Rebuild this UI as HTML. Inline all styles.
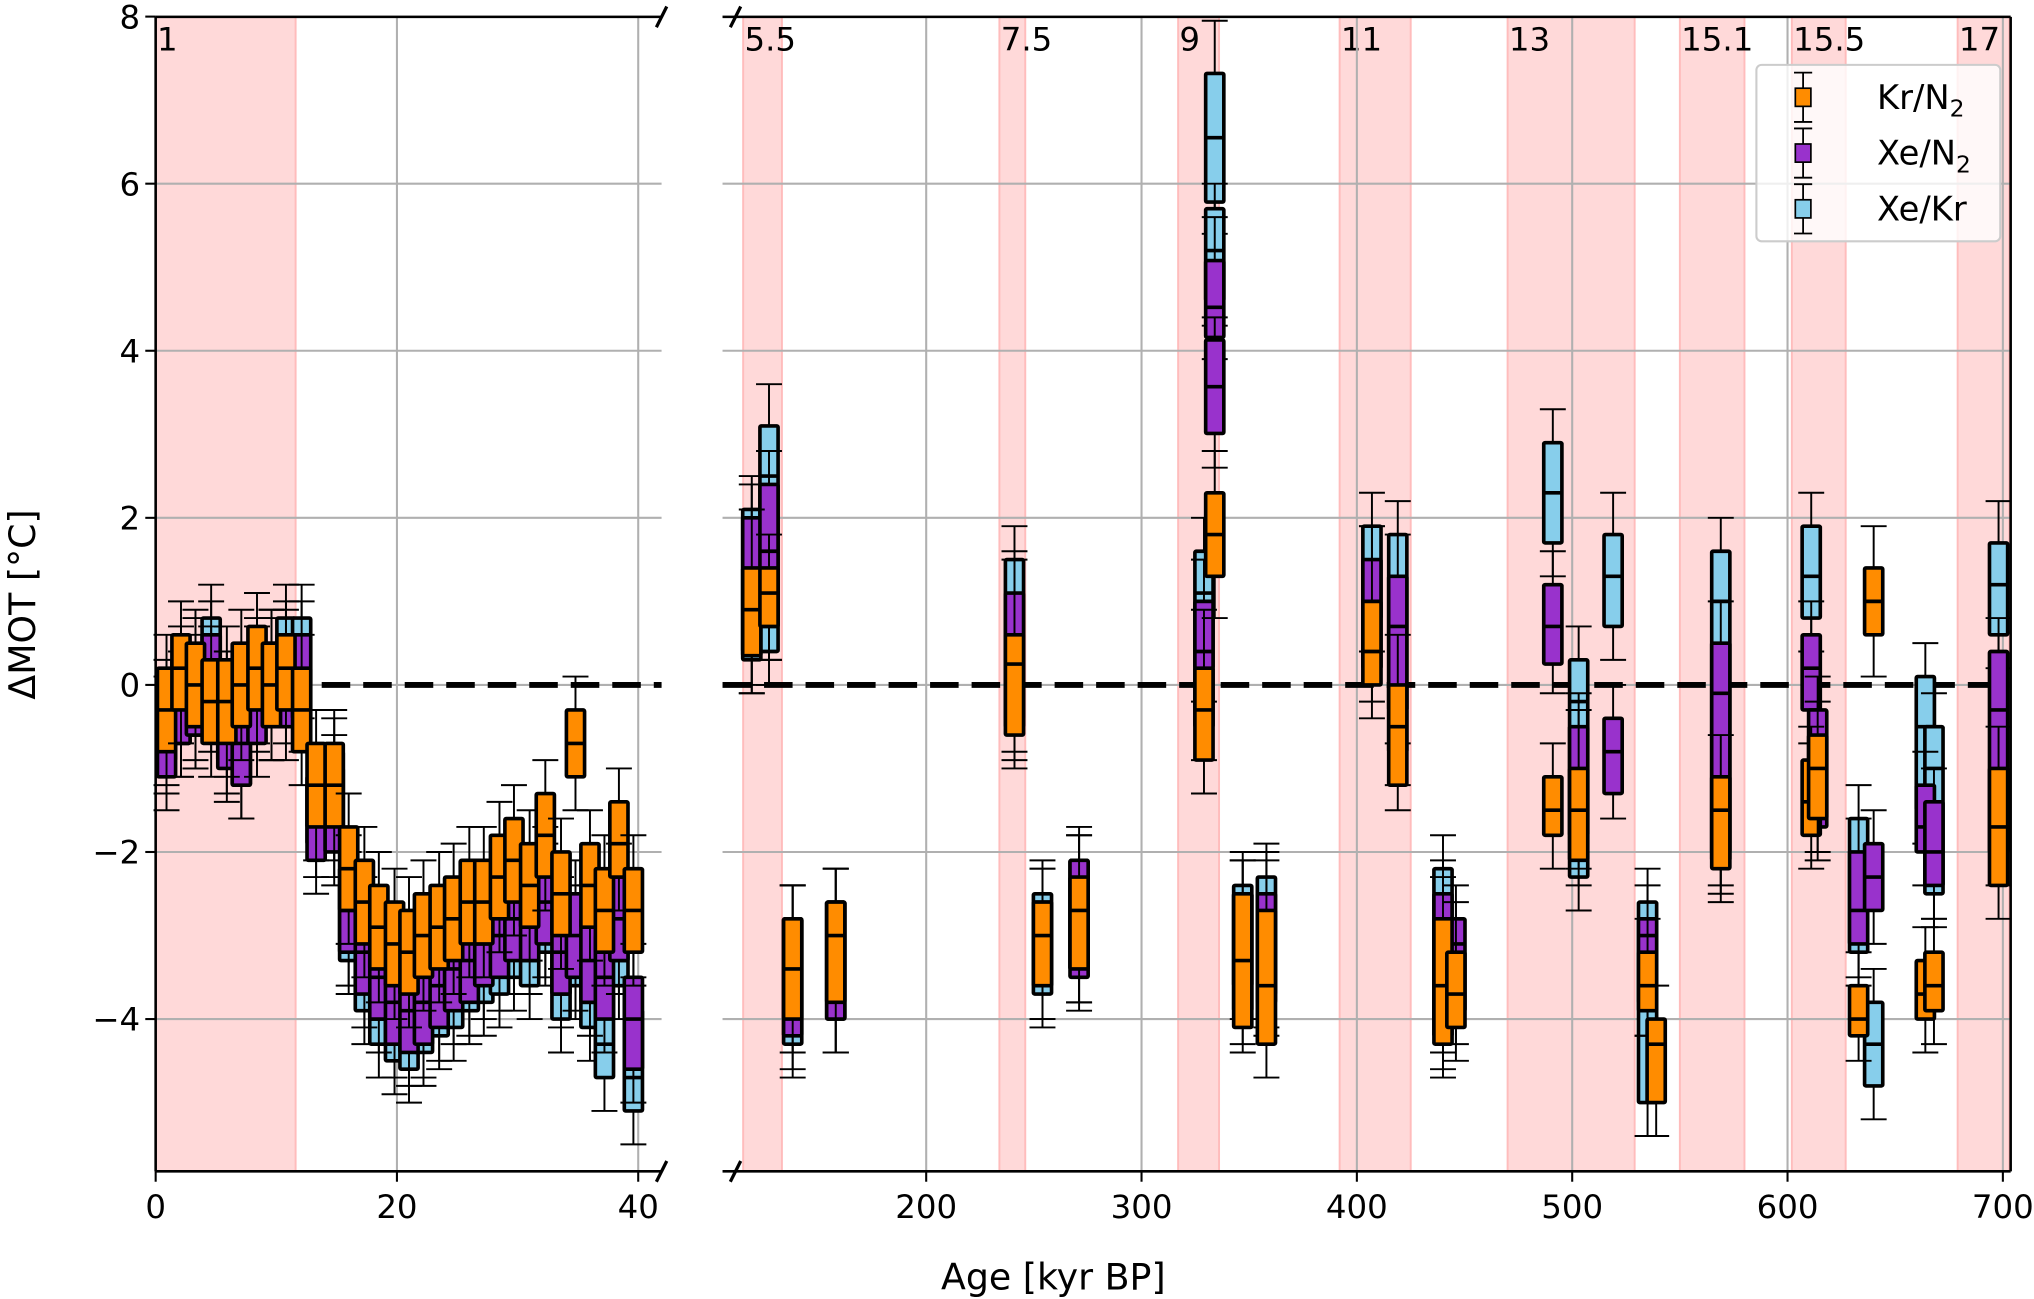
<!DOCTYPE html>
<html><head><meta charset="utf-8"><style>
html,body{margin:0;padding:0;background:#fff;}
svg{display:block;font-family:"DejaVu Sans","Liberation Sans",sans-serif;}
</style></head><body>
<svg id="chart" width="2034" height="1299" viewBox="0 0 1568 1001.4" preserveAspectRatio="none" xmlns="http://www.w3.org/2000/svg">
<g id="bg"></g><g id="grid"></g><g id="marks"></g><g id="axes"></g>
</svg>
<script>
// ---- data ----
const yTicks = [8, 6, 4, 2, 0, -2, -4];
const xTicksLeft = [0, 20, 40];
const xTicksRight = [200, 300, 400, 500, 600, 700];
const stageLabels = ["1", "5.5", "7.5", "9", "11", "13", "15.1", "15.5", "17"];
const stageStart = [0, 115, 234, 317, 392, 470, 550, 602, 679];
const stageEnd = [11.6, 133, 246, 336, 425, 529, 580, 627, 703];
const leftAges = [0.9,2.1,3.3,4.6,5.9,7.1,8.4,9.6,10.8,12.1,13.3,14.8,16.0,17.3,18.5,19.8,21.0,22.2,23.5,24.7,26.0,27.2,28.5,29.7,31.0,32.3,33.6,34.8,36.0,37.2,38.4,39.6];

// Kr/N2
const krAge = leftAges.concat([119,127,138,158,241,254,271,329,334,347,358,407,419,440,446,491,503,535,539,569,611,614,633,640,664,668,698]);
const krQ1 = [-0.8,-0.3,-0.5,-0.7,-0.7,-0.5,-0.3,-0.5,-0.3,-0.8,-1.7,-1.7,-2.7,-3.1,-3.4,-3.6,-3.7,-3.5,-3.4,-3.3,-3.1,-3.1,-2.8,-2.6,-2.9,-2.3,-3.0,-1.1,-2.9,-3.2,-2.3,-3.2,
  0.35,0.7,-4.0,-3.8,-0.6,-3.6,-3.4,-0.9,1.3,-4.1,-4.3,0.0,-1.2,-4.3,-4.1,-1.8,-2.1,-3.9,-5.0,-2.2,-1.8,-1.6,-4.2,0.6,-4.0,-3.9,-2.4];
const krMed = [-0.3,0.2,0.0,-0.2,-0.2,0.0,0.2,0.0,0.2,-0.3,-1.2,-1.2,-2.2,-2.6,-2.9,-3.1,-3.2,-3.0,-2.9,-2.8,-2.6,-2.6,-2.3,-2.1,-2.4,-1.8,-2.5,-0.7,-2.4,-2.7,-1.9,-2.7,
  0.9,1.1,-3.4,-3.0,0.25,-3.0,-2.7,-0.3,1.8,-3.3,-3.6,0.4,-0.5,-3.6,-3.7,-1.5,-1.5,-3.6,-4.3,-1.5,-1.4,-1.0,-4.0,1.0,-3.7,-3.6,-1.7];
const krQ3 = [0.2,0.6,0.5,0.3,0.3,0.5,0.7,0.5,0.6,0.2,-0.7,-0.7,-1.7,-2.1,-2.4,-2.6,-2.7,-2.5,-2.4,-2.3,-2.1,-2.1,-1.8,-1.6,-1.9,-1.3,-2.0,-0.3,-1.9,-2.2,-1.4,-2.2,
  1.4,1.4,-2.8,-2.6,0.6,-2.6,-2.3,0.2,2.3,-2.5,-2.7,1.0,0.0,-2.8,-3.2,-1.1,-1.0,-3.2,-4.0,-1.1,-0.9,-0.6,-3.6,1.4,-3.3,-3.2,-1.0];
const krLo = [-1.2,-0.7,-0.9,-1.1,-1.1,-0.9,-0.7,-0.9,-0.7,-1.2,-2.1,-2.1,-3.1,-3.5,-3.8,-4.0,-4.1,-3.9,-3.8,-3.7,-3.5,-3.5,-3.2,-3.0,-3.3,-2.7,-3.4,-1.5,-3.3,-3.6,-2.7,-3.6,
  -0.1,0.3,-4.4,-4.4,-1.0,-4.0,-3.8,-1.3,0.8,-4.4,-4.7,-0.4,-1.5,-4.7,-4.5,-2.2,-2.4,-4.2,-5.4,-2.6,-2.2,-2.0,-4.5,0.1,-4.4,-4.3,-2.8];
const krHi = [0.6,1.0,0.9,0.7,0.7,0.9,1.1,0.9,1.0,0.6,-0.3,-0.3,-1.3,-1.7,-2.0,-2.2,-2.3,-2.1,-2.0,-1.9,-1.7,-1.7,-1.4,-1.2,-1.5,-0.9,-1.6,0.1,-1.5,-1.8,-1.0,-1.8,
  2.1,1.8,-2.4,-2.2,1.5,-2.2,-1.8,0.9,2.8,-2.1,-2.0,1.9,0.6,-2.3,-2.6,-0.7,-0.3,-2.8,-3.6,-0.6,-0.5,-0.2,-3.2,1.9,-2.9,-2.8,-0.5];

// Xe/N2
const xnAge = leftAges.concat([119,127,138,158,241,254,271,329,334,334,347,358,407,419,440,446,491,503,519,535,569,611,614,633,640,664,668,698]);
const xnQ1 = [-1.1,-0.7,-0.6,-0.4,-1.0,-1.2,-0.7,-0.5,-0.5,-0.4,-2.1,-2.0,-3.2,-3.7,-4.0,-4.3,-4.4,-4.3,-4.1,-3.9,-3.8,-3.6,-3.5,-3.3,-3.3,-3.1,-3.7,-3.5,-3.8,-4.0,-3.3,-4.6,
  0.4,0.7,-4.2,-4.0,-0.4,-3.6,-3.5,-0.5,4.16,3.01,-3.6,-3.8,0.2,-0.8,-4.0,-3.9,0.25,-1.8,-1.3,-3.8,-2.0,-0.3,-1.7,-3.1,-2.7,-2.0,-2.4,-2.0];
const xnMed = [-0.6,-0.2,-0.1,0.1,-0.5,-0.7,-0.2,0.0,0.0,0.1,-1.6,-1.5,-2.7,-3.2,-3.5,-3.8,-3.9,-3.8,-3.6,-3.4,-3.3,-3.1,-3.0,-2.8,-2.8,-2.6,-3.2,-3.0,-3.3,-3.5,-2.8,-4.0,
  1.2,1.6,-3.9,-3.5,0.6,-3.2,-2.9,0.4,4.52,3.57,-3.0,-3.1,0.9,0.7,-3.3,-3.1,0.7,-1.1,-0.8,-3.0,-0.1,0.2,-0.9,-2.7,-2.3,-1.7,-2.0,-0.3];
const xnQ3 = [-0.1,0.3,0.4,0.6,0.0,-0.2,0.3,0.5,0.5,0.6,-1.1,-1.0,-2.2,-2.7,-3.0,-3.3,-3.4,-3.3,-3.1,-2.9,-2.8,-2.6,-2.5,-2.3,-2.3,-2.1,-2.7,-2.5,-2.8,-3.0,-2.3,-3.5,
  2.0,2.4,-2.8,-2.6,1.1,-2.6,-2.1,1.0,5.08,4.13,-2.5,-2.5,1.5,1.3,-2.5,-2.8,1.2,-0.5,-0.4,-2.8,0.5,0.6,-0.3,-2.0,-1.9,-1.2,-1.4,0.4];
const xnLo = [-1.5,-1.1,-1.0,-0.8,-1.4,-1.6,-1.1,-0.9,-0.9,-0.8,-2.5,-2.4,-3.6,-4.1,-4.4,-4.7,-4.8,-4.7,-4.5,-4.3,-4.2,-4.0,-3.9,-3.7,-3.7,-3.5,-4.1,-3.9,-4.2,-4.4,-3.7,-5.0,
  0.0,0.3,-4.6,-4.4,-0.8,-4.0,-3.9,-0.9,3.9,2.6,-4.0,-4.2,-0.2,-1.2,-4.4,-4.3,-0.1,-2.2,-1.6,-4.2,-2.4,-0.7,-2.1,-3.5,-3.1,-2.4,-2.8,-2.4];
const xnHi = [0.3,0.7,0.8,1.0,0.4,0.2,0.7,0.9,0.9,1.0,-0.7,-0.6,-1.8,-2.3,-2.6,-2.9,-3.0,-2.9,-2.7,-2.5,-2.4,-2.2,-2.1,-1.9,-1.9,-1.7,-2.3,-2.1,-2.4,-2.6,-1.9,-3.1,
  2.4,2.8,-2.4,-2.2,1.6,-2.2,-1.8,1.5,5.6,4.4,-2.1,-2.1,1.9,1.8,-2.1,-2.4,1.6,-0.1,0.0,-2.4,1.0,1.0,0.1,-1.6,-1.5,-0.8,-1.0,0.8];

// Xe/Kr
const xkAge = leftAges.concat([119,127,138,158,241,254,271,329,334,334,347,358,407,419,440,491,503,519,535,569,611,633,640,664,668,698]);
const xkQ1 = [-0.9,-0.7,-0.6,-0.1,-0.9,-1.2,-0.4,-0.5,-0.1,0.0,-1.9,-1.9,-3.3,-3.9,-4.3,-4.5,-4.6,-4.4,-4.2,-4.1,-3.9,-3.8,-3.7,-3.5,-3.6,-3.2,-4.0,-3.6,-4.1,-4.7,-3.6,-5.1,
  0.3,0.4,-4.3,-4.0,-0.5,-3.7,-3.4,0.2,5.78,4.6,-3.9,-3.7,0.8,-0.3,-4.2,1.7,-2.3,0.7,-5.0,-2.1,0.8,-3.2,-4.8,-1.5,-2.5,0.6];
const xkMed = [-0.7,-0.4,-0.3,0.3,-0.6,-1.0,-0.1,-0.2,0.3,0.4,-1.7,-1.6,-3.0,-3.6,-4.0,-4.2,-4.3,-4.1,-3.9,-3.8,-3.6,-3.5,-3.4,-3.2,-3.3,-2.8,-3.7,-3.3,-3.8,-4.3,-3.3,-4.7,
  1.2,2.5,-4.1,-3.8,1.0,-3.3,-2.8,1.1,6.55,5.2,-3.2,-3.0,1.4,1.0,-3.2,2.3,-0.2,1.3,-3.0,1.0,1.3,-2.1,-4.3,-0.5,-1.0,1.2];
const xkQ3 = [-0.3,0.0,0.2,0.8,-0.2,-0.5,0.4,0.4,0.8,0.8,-1.2,-0.8,-2.4,-3.0,-3.4,-3.7,-3.8,-3.6,-3.4,-3.3,-3.1,-3.0,-2.9,-2.7,-2.8,-2.3,-3.2,-2.8,-3.3,-3.7,-2.8,-3.9,
  2.1,3.1,-2.8,-2.6,1.5,-2.5,-2.1,1.6,7.32,5.7,-2.4,-2.3,1.9,1.8,-2.2,2.9,0.3,1.8,-2.6,1.6,1.9,-1.6,-3.8,0.1,-0.5,1.7];
const xkLo = [-1.3,-1.1,-1.0,-0.5,-1.3,-1.6,-0.8,-0.9,-0.5,-0.4,-2.3,-2.3,-3.7,-4.3,-4.7,-4.9,-5.0,-4.8,-4.6,-4.5,-4.3,-4.2,-4.1,-3.9,-4.0,-3.6,-4.4,-4.0,-4.5,-5.1,-4.0,-5.5,
  -0.1,0.0,-4.7,-4.4,-0.9,-4.1,-3.8,-0.2,5.4,4.3,-4.3,-4.1,0.4,-0.7,-4.6,1.3,-2.7,0.3,-5.4,-2.5,0.4,-3.6,-5.2,-1.9,-2.9,0.2];
const xkHi = [0.1,0.4,0.6,1.2,0.2,-0.1,0.8,0.8,1.2,1.2,-0.8,-0.4,-2.0,-2.6,-3.0,-3.3,-3.4,-3.2,-3.0,-2.9,-2.7,-2.6,-2.5,-2.3,-2.4,-1.9,-2.8,-2.4,-2.9,-3.3,-2.4,-3.5,
  2.5,3.6,-2.4,-2.2,1.9,-2.1,-1.7,2.0,7.95,6.0,-2.0,-1.9,2.3,2.2,-1.8,3.3,0.7,2.3,-2.2,2.0,2.3,-1.2,-3.4,0.5,-0.1,2.2];

// ---- scales ----
const NS = "http://www.w3.org/2000/svg";
const L0 = 120, L1 = 510, R0 = 557, R1 = 1550, T = 13, B = 903;
function xL(a){ return 120 + a * 9.3; }
function xR(a){ return 714 + (a - 200) * 1.66; }
function xAge(a){ return a <= 45 ? xL(a) : xR(a); }
function yv(v){ return 528 - v * 64.4; }
function mk(tag, attrs, parent){
  const e = document.createElementNS(NS, tag);
  for (const k in attrs) e.setAttribute(k, attrs[k]);
  parent.appendChild(e);
  return e;
}
const bg = document.getElementById('bg'), grid = document.getElementById('grid'),
      marks = document.getElementById('marks'), axes = document.getElementById('axes');

// stage shading
stageLabels.forEach((lab, i) => {
  const x0 = xAge(stageStart[i]), x1 = Math.min(xAge(stageEnd[i]), i === 0 ? L1 : R1);
  const r = mk('rect', {x: x0, y: T, width: x1 - x0, height: B - T, fill: '#ffd9d9', stroke: '#ffbcbc', 'stroke-width': 1.5}, bg);
  
  
  const t = mk('text', {x: x0 + 1, y: 39, 'font-size': 25, fill: '#000'}, bg);
  t.textContent = lab;
  
  
});

// gridlines
yTicks.forEach(v => {
  [[L0, L1], [R0, R1]].forEach(([a, b]) => {
    const g = mk('line', {x1: a, x2: b, y1: yv(v), y2: yv(v), stroke: '#b0b0b0', 'stroke-width': 1.6}, grid);
    
    
  });
});
xTicksLeft.concat(xTicksRight).forEach(a => {
  const g = mk('line', {x1: xAge(a), x2: xAge(a), y1: T, y2: B, stroke: '#b0b0b0', 'stroke-width': 1.6}, grid);
  
  
});
// zero line
[[L0, L1], [R0, R1]].forEach(([a, b]) => {
  const z = mk('line', {x1: a, x2: b, y1: yv(0), y2: yv(0), stroke: '#000', 'stroke-width': 4.5, 'stroke-dasharray': '22 10'}, grid);
  
  
});

// box plots
function drawSeries(name, color, age, q1, med, q3, lo, hi){
  const g = mk('g', {}, marks);
  
  
  for (let i = 0; i < age.length; i++){
    const x = xAge(age[i]);
    const bw = 14, cw = 20;
    const w = mk('line', {x1: x, x2: x, y1: yv(hi[i]), y2: yv(lo[i]), stroke: '#000', 'stroke-width': 1.5}, g);
    
    
    [lo[i], hi[i]].forEach(v => {
      const c = mk('line', {x1: x - cw/2, x2: x + cw/2, y1: yv(v), y2: yv(v), stroke: '#000', 'stroke-width': 1.5}, g);
      
      
    });
    const b = mk('rect', {x: x - bw/2, y: yv(q3[i]), width: bw, height: yv(q1[i]) - yv(q3[i]), fill: color, stroke: '#000', 'stroke-width': 2.8, rx: 1}, g);
    
    
    const m = mk('line', {x1: x - bw/2, x2: x + bw/2, y1: yv(med[i]), y2: yv(med[i]), stroke: '#000', 'stroke-width': 2.8}, g);
    
    
  }
}
drawSeries('xe-kr', '#87ceeb', xkAge, xkQ1, xkMed, xkQ3, xkLo, xkHi);
drawSeries('xe-n2', '#9932cc', xnAge, xnQ1, xnMed, xnQ3, xnLo, xnHi);
drawSeries('kr-n2', '#ff8c00', krAge, krQ1, krMed, krQ3, krLo, krHi);

// spines
function ln(x1, y1, x2, y2, name, w){
  const l = mk('line', {x1, y1, x2, y2, stroke: '#000', 'stroke-width': w || 2}, axes);
  
  
}
ln(L0, T, L0, B, 'left-y-axis-spine');
ln(L0, T, L1, T, 'left-top-spine');
ln(L0, B, L1, B, 'left-x-axis-spine');
ln(R0, T, R1, T, 'right-top-spine');
ln(R0, B, R1, B, 'right-x-axis-spine');
ln(R1, T, R1, B, 'right-spine');
// break marks
ln(L1 - 4, T + 8, L1 + 4, T - 8, 'axis-break-mark', 2.5);
ln(L1 - 4, B + 8, L1 + 4, B - 8, 'axis-break-mark', 2.5);
ln(R0 + 6, T + 8, R0 + 14, T - 8, 'axis-break-mark', 2.5);
ln(R0 + 6, B + 8, R0 + 14, B - 8, 'axis-break-mark', 2.5);

// ticks
yTicks.forEach(v => {
  ln(L0 - 8, yv(v), L0, yv(v), 'y-tick', 1.6);
  const t = mk('text', {x: L0 - 12, y: yv(v) + 9, 'font-size': 25, 'text-anchor': 'end'}, axes);
  t.textContent = v < 0 ? '\u2212' + Math.abs(v) : String(v);
  
  
});
xTicksLeft.concat(xTicksRight).forEach(a => {
  ln(xAge(a), B, xAge(a), B + 8, 'x-tick', 1.6);
  const t = mk('text', {x: xAge(a), y: B + 36, 'font-size': 25, 'text-anchor': 'middle'}, axes);
  t.textContent = String(a);
  
  
});
const yt = mk('text', {x: 0, y: 0, 'font-size': 28, 'text-anchor': 'middle', transform: 'translate(27,466) rotate(-90)'}, axes);
yt.textContent = '\u0394MOT [\u00B0C]';


const xt = mk('text', {x: 812, y: 994, 'font-size': 28, 'text-anchor': 'middle'}, axes);
xt.textContent = 'Age [kyr BP]';



// legend
const lg = mk('g', {}, axes);


const lr = mk('rect', {x: 1354, y: 50, width: 188, height: 136, rx: 4, fill: 'rgba(255,255,255,0.8)', stroke: '#cccccc', 'stroke-width': 1.6}, lg);


const legNames = ['Kr/N', 'Xe/N', 'Xe/Kr'];
const legSub = ['2', '2', ''];
const legColors = ['#ff8c00', '#9932cc', '#87ceeb'];
legNames.forEach((n, i) => {
  const cy = 75 + i * 43;
  const e = mk('g', {}, lg);
  
  
  mk('line', {x1: 1390, x2: 1390, y1: cy - 19, y2: cy + 19, stroke: '#000', 'stroke-width': 1.4}, e);
  mk('line', {x1: 1383, x2: 1397, y1: cy - 19, y2: cy - 19, stroke: '#000', 'stroke-width': 1.4}, e);
  mk('line', {x1: 1383, x2: 1397, y1: cy + 19, y2: cy + 19, stroke: '#000', 'stroke-width': 1.4}, e);
  mk('rect', {x: 1384, y: cy - 7, width: 12, height: 14, fill: legColors[i], stroke: '#000', 'stroke-width': 1.3}, e);
  const t = mk('text', {x: 1447, y: cy + 9, 'font-size': 26}, e);
  t.textContent = n;
  if (legSub[i]) {
    const s = mk('tspan', {'font-size': 18, dy: 6}, t);
    s.textContent = legSub[i];
  }
});
</script>
</body></html>
